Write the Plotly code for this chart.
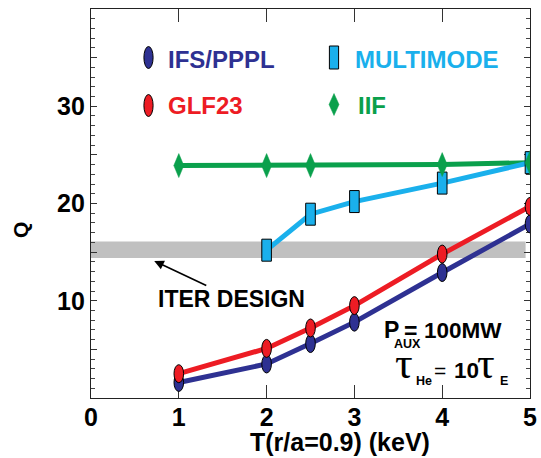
import plotly.graph_objects as go

# ---------------- data ----------------
T_IFS = [1, 2, 2.5, 3, 4, 5]
Q_IFS = [1.6, 3.5, 5.6, 7.8, 12.9, 17.9]
T_GLF = [1, 2, 2.5, 3, 4, 5]
Q_GLF = [2.5, 5.1, 7.2, 9.5, 14.8, 19.7]
T_MM = [2, 2.5, 3, 4, 5]
Q_MM = [15.2, 18.9, 20.2, 22.1, 24.2]
T_IIF = [1, 2, 2.5, 4, 5]
Q_IIF = [23.9, 23.9, 23.9, 24.0, 24.2]
ITER_Q = [14.4, 16.1]
ITER_T = [0, 4.95]
X_TICKS = [0, 1, 2, 3, 4, 5]
Y_TICKS = [0, 5, 10, 15, 20, 25, 30, 35, 40]
Y_TICKTEXT = ["", "", "10", "", "20", "", "30", "", ""]

NAVY = "#2e3192"
RED = "#ed1c24"
CYAN = "#1ab0ec"
GREEN = "#0aa04c"
GRAY = "#c0c0c0"

W, H = 541, 458
ML, MR, MT, MB = 91, 11, 9, 60
XR = [0, 5]
YR = [0, 40]
PW = W - ML - MR
PH = H - MT - MB
XS = PW / (XR[1] - XR[0])   # px per x unit
YS = PH / (YR[1] - YR[0])   # px per y unit


def px(x):
    return (x - ML) / PW


def py(y):
    return (H - MB - y) / PH


fig = go.Figure()

# lines
for t, q, c in [(T_IIF, Q_IIF, GREEN), (T_MM, Q_MM, CYAN), (T_IFS, Q_IFS, NAVY), (T_GLF, Q_GLF, RED)]:
    fig.add_trace(go.Scatter(x=t, y=q, mode="lines", line=dict(color=c, width=5),
                             showlegend=False, hoverinfo="skip", cliponaxis=False))

shapes = []
# ITER band
shapes.append(dict(type="rect", xref="x", yref="y", x0=ITER_T[0], x1=ITER_T[1],
                   y0=ITER_Q[0], y1=ITER_Q[1], fillcolor=GRAY, line=dict(width=0), layer="below"))


def ellipse(x, y, color, ref="data"):
    if ref == "data":
        hw, hh = 4.8 / XS, 9.0 / YS
        return dict(type="circle", xref="x", yref="y", x0=x - hw, x1=x + hw, y0=y - hh, y1=y + hh,
                    fillcolor=color, line=dict(color="black", width=1), layer="above")
    hw, hh = 4.6 / PW, 11.0 / PH
    return dict(type="circle", xref="paper", yref="paper", x0=x - hw, x1=x + hw, y0=y - hh, y1=y + hh,
                fillcolor=color, line=dict(color="black", width=1), layer="above")


def rect(x, y, color, ref="data"):
    if ref == "data":
        hw, hh = 4.8 / XS, 11.0 / YS
        return dict(type="rect", xref="x", yref="y", x0=x - hw, x1=x + hw, y0=y - hh, y1=y + hh,
                    fillcolor=color, line=dict(color="black", width=1), layer="above")
    hw, hh = 4.6 / PW, 11.5 / PH
    return dict(type="rect", xref="paper", yref="paper", x0=x - hw, x1=x + hw, y0=y - hh, y1=y + hh,
                fillcolor=color, line=dict(color="black", width=1), layer="above")


def diamond(x, y, color, ref="data"):
    if ref == "data":
        hw, hh = 5.0 / XS, 12.0 / YS
        xref, yref = "x", "y"
    else:
        hw, hh = 5.0 / PW, 11.0 / PH
        xref, yref = "paper", "paper"
    path = f"M {x},{y + hh} L {x + hw},{y} L {x},{y - hh} L {x - hw},{y} Z"
    return dict(type="path", xref=xref, yref=yref, path=path, fillcolor=color,
                line=dict(color=color, width=0.5), layer="above")


for t, q in zip(T_IFS, Q_IFS):
    shapes.append(ellipse(t, q, NAVY))
for t, q in zip(T_GLF, Q_GLF):
    shapes.append(ellipse(t, q, RED))
for t, q in zip(T_MM, Q_MM):
    shapes.append(rect(t, q, CYAN))
for t, q in zip(T_IIF, Q_IIF):
    shapes.append(diamond(t, q, GREEN))

# custom legend
shapes.append(ellipse(px(148.5), py(57.5), NAVY, ref="paper"))
shapes.append(ellipse(px(148.5), py(105.5), RED, ref="paper"))
shapes.append(rect(px(334), py(57.5), CYAN, ref="paper"))
shapes.append(diamond(px(334), py(104.5), GREEN, ref="paper"))

BOLD = dict(family="Liberation Sans, Arial, sans-serif", weight="bold")

annotations = []
for text, col, x, y in [("IFS/PPPL", NAVY, 166, 60), ("GLF23", RED, 166, 105),
                        ("MULTIMODE", CYAN, 353, 60), ("IIF", GREEN, 356, 105)]:
    annotations.append(dict(text=text, xref="paper", yref="paper", x=px(x), y=py(y),
                            xanchor="left", yanchor="middle", showarrow=False,
                            font=dict(size=24, color=col, **BOLD)))

# ITER DESIGN
annotations.append(dict(text="ITER DESIGN", xref="x", yref="y", x=1.6, y=10.2,
                        showarrow=False, font=dict(size=23, color="black", **BOLD)))
annotations.append(dict(text="", xref="x", yref="y", x=0.72, y=14.1, axref="x", ayref="y",
                        ax=1.33, ay=11.5, showarrow=True, arrowhead=2, arrowsize=1.2,
                        arrowwidth=1.6, arrowcolor="black"))


def txt(text, x, y, size, family="Liberation Sans, Arial, sans-serif", weight="bold"):
    annotations.append(dict(text=text, xref="paper", yref="paper", x=px(x), y=py(y),
                            xanchor="left", yanchor="middle", showarrow=False,
                            font=dict(size=size, color="black", family=family, weight=weight)))


# P_AUX = 100MW
txt("P", 382, 330, 23)
txt("AUX", 392, 343.5, 12.5)
txt("=", 402, 331, 23)
txt("100MW", 422, 330, 22.5)
# tau_He = 10 tau_E
txt("τ", 393, 363, 44, family="Liberation Serif, DejaVu Serif, serif", weight="normal")
txt("He", 414, 381, 12.5)
txt("=", 432, 370, 21, weight="normal")
txt("10", 452, 370, 22.5)
txt("τ", 475, 363, 44, family="Liberation Serif, DejaVu Serif, serif", weight="normal")
txt("E", 498, 381, 12.5)

# axis titles
annotations.append(dict(text="Q", xref="paper", yref="paper", x=px(21), y=py(230),
                        textangle=-90, showarrow=False, xanchor="center", yanchor="middle",
                        font=dict(size=21, color="black", **BOLD)))
annotations.append(dict(text="T(r/a=0.9) (keV)", xref="paper", yref="paper", x=px(340), y=py(442),
                        showarrow=False, xanchor="center", yanchor="middle",
                        font=dict(size=25, color="black", **BOLD)))

fig.update_layout(
    width=W, height=H,
    margin=dict(l=ML, r=MR, t=MT, b=MB, autoexpand=False),
    paper_bgcolor="white", plot_bgcolor="white",
    showlegend=False,
    shapes=shapes,
    annotations=annotations,
    font=dict(color="black", **BOLD),
)
fig.update_xaxes(range=XR, tickvals=X_TICKS, ticks="inside", ticklen=13, tickwidth=1.2,
                 tickcolor="#333", showline=True, linecolor="#222", linewidth=1.3,
                 mirror="allticks", showgrid=False, zeroline=False, automargin=False,
                 ticklabelstandoff=-3,
                 tickfont=dict(size=25, color="black", **BOLD))
fig.update_yaxes(range=YR, tickvals=Y_TICKS, ticktext=Y_TICKTEXT, ticks="inside", ticklen=6,
                 tickwidth=1.2, tickcolor="#333", showline=True, linecolor="#222", linewidth=1.3,
                 mirror="allticks", showgrid=False, zeroline=False, automargin=False,
                 minor=dict(dtick=1, ticks="inside", ticklen=3.5, tickcolor="#444", tickwidth=1),
                 tickfont=dict(size=25, color="black", **BOLD))

fig.write_html("out.html", post_script="document.body.style.margin='0';",
               config={"displayModeBar": False})
